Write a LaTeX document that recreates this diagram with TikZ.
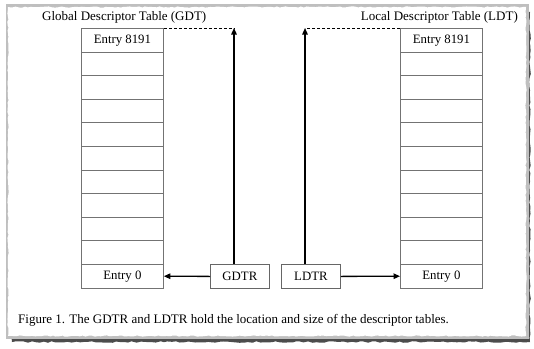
\documentclass[tikz,border=0pt]{standalone}
\usepackage{fontspec}
\setmainfont{Liberation Serif}
\usetikzlibrary{arrows.meta,decorations.pathmorphing}
\begin{document}
\begin{tikzpicture}[x=1pt,y=-1pt,
  cell/.style={draw=black!55,line width=0.8pt,minimum width=82pt,minimum height=23.6pt,inner sep=0pt,anchor=north west},
  reg/.style={draw=black!60,line width=0.8pt,minimum width=59pt,minimum height=24pt,inner sep=0pt,anchor=north west,font=\fontsize{12.8}{14}\selectfont},
  lbl/.style={font=\fontsize{12.8}{14}\selectfont},
  ptr/.style={line width=1.3pt,-{Triangle[length=6.5pt,width=5.5pt]}},
  link/.style={line width=1pt,dashed,dash pattern=on 3pt off 2pt},
  ttl/.style={font=\fontsize{13}{14}\selectfont,inner sep=0pt}]
\useasboundingbox (0,0) rectangle (534,348);
\fill[white] (0,0) rectangle (534,348);
% paper sheet with soft shadow and rough edges
\fill[black!70,decorate,decoration={random steps,segment length=4pt,amplitude=0.8pt}]
  (12,12) rectangle (530,342);
\fill[black!25] (6,4) rectangle (529,339);
\fill[white,decorate,decoration={random steps,segment length=3pt,amplitude=0.6pt}]
  (8,7) rectangle (526,336);

% Global descriptor table
\node[ttl,anchor=base west] (gdtt) at (42,20) {Global Descriptor Table (GDT)};
\foreach \i in {0,...,10} {
  \node[cell] (g\i) at (81,{28+23.6*\i}) {};
}
\node[lbl] at (g0) {Entry 8191};
\node[lbl] at (g10) {Entry 0};

% Local descriptor table
\node[ttl,anchor=base east] (ldtt) at (518,20) {Local Descriptor Table (LDT)};
\foreach \i in {0,...,10} {
  \node[cell] (l\i) at (400,{28+23.6*\i}) {};
}
\node[lbl] at (l0) {Entry 8191};
\node[lbl] at (l10) {Entry 0};

% Registers
\node[reg] (gdtr) at (210,264) {GDTR};
\node[reg] (ldtr) at (281,264) {LDTR};

\coordinate (gtop) at (234,28);
\coordinate (ltop) at (305,28);

\draw[ptr] (gdtr.north -| gtop) -- (gtop);
\draw[link] (g0.north east) -- (gtop);
\draw[ptr] (ldtr.north -| ltop) -- (ltop);
\draw[link] (l0.north west) -- (ltop);
\draw[ptr] (gdtr.west) -- (g10.east);
\draw[ptr] (ldtr.east) -- (l10.west);

\node[font=\fontsize{13}{14}\selectfont,anchor=base west,inner sep=0pt] (cap) at (18,323)
  {Figure 1. The GDTR and LDTR hold the location and size of the descriptor tables.};
\end{tikzpicture}
\end{document}
